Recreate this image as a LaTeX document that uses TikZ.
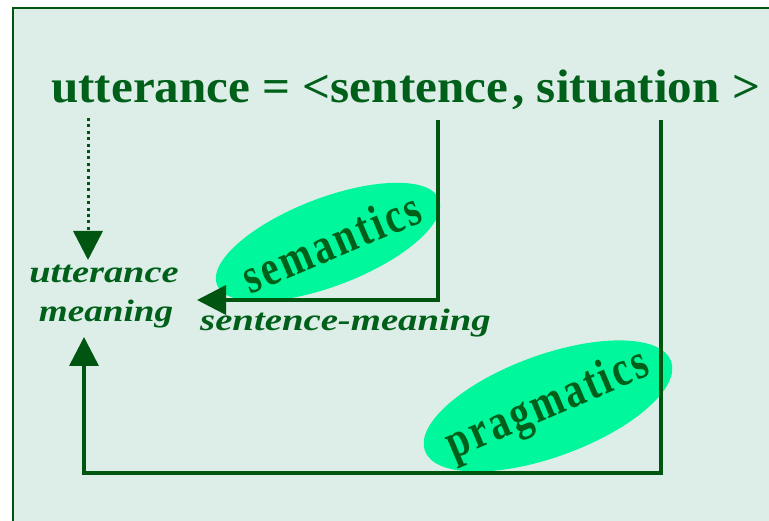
\documentclass[tikz,border=0pt]{standalone}
\usepackage{fontspec}
\setmainfont{Liberation Serif}
\usetikzlibrary{shapes.geometric,arrows.meta}
\definecolor{bgc}{HTML}{DDEEE8}
\definecolor{ell}{HTML}{00F79C}
\definecolor{txt}{HTML}{00601A}
\definecolor{lnc}{HTML}{005510}
\tikzset{
  conn/.style={draw=lnc, line width=3.6pt},
  tip/.style={-{Triangle[length=29pt,width=29pt]}},
  blob/.style={ellipse, fill=ell, inner sep=0pt},
  lbl/.style={text=txt, inner sep=0pt},
  pt/.style={inner sep=0pt, minimum size=0pt}
}
\newcommand{\gk}{\kern3.4pt}
\begin{document}
\begin{tikzpicture}[x=1pt,y=-1pt]
\useasboundingbox (0,0) rectangle (769,521);
\begin{scope}
\clip (0,0) rectangle (769,521);
\draw[draw=lnc, line width=2.6pt, fill=bgc] (13,8) rectangle (790,540);
\end{scope}
% title
\node[lbl, anchor=base west] (title) at (51,103)
  {\fontsize{47}{50}\selectfont\bfseries\scalebox{1.045}[1]{utterance = <sentence\kern4pt, situation >}};
% ellipses
\node[blob, rotate=21, minimum width=238pt, minimum height=88pt] (semE) at (328,242) {};
\node[blob, rotate=20, minimum width=262pt, minimum height=102pt] (pragE) at (548,406) {};
\node[lbl, rotate=23] (sem) at (331,242) {\fontsize{50}{54}\selectfont\bfseries\scalebox{0.8}[1]{s\gk e\gk m\gk a\gk n\gk t\gk i\gk c\gk s}};
\node[lbl, rotate=23] (prag) at (548,406) {\fontsize{50}{54}\selectfont\bfseries\scalebox{0.8}[1]{p\gk r\gk a\gk g\gk m\gk a\gk t\gk i\gk c\gk s}};
% labels
\node[lbl, anchor=base] (um1) at (104,283) {\fontsize{31}{34}\selectfont\bfseries\itshape\scalebox{1.24}[1]{utterance}};
\node[lbl, anchor=base] (um2) at (106,322) {\fontsize{31}{34}\selectfont\bfseries\itshape\scalebox{1.2}[1]{meaning}};
\node[lbl, anchor=base west] (sm) at (200,331) {\fontsize{31}{34}\selectfont\bfseries\itshape\scalebox{1.25}[1]{sentence-meaning}};
% coordinates
\coordinate (dotTop) at (88,118);
\coordinate (dotTip) at (88,260);
\coordinate (sTop) at (438,120);
\coordinate (sCorner) at (438,300);
\coordinate (sTip) at (197,300);
\coordinate (pTop) at (661,120);
\coordinate (pCorner) at (661,473);
\coordinate (pCorner2) at (84,473);
\coordinate (pTip) at (84,337);
% connectors
\draw[draw=lnc, line width=3pt, line cap=butt, dash pattern=on 3pt off 3.4pt] (dotTop) -- (88,233);
\draw[conn, tip] (88,231) -- (dotTip);
\draw[conn, tip] (sTop) -- (sCorner) -- (sTip);
\draw[conn, tip] (pTop) -- (pCorner) -- (pCorner2) -- (pTip);
\end{tikzpicture}
\end{document}
